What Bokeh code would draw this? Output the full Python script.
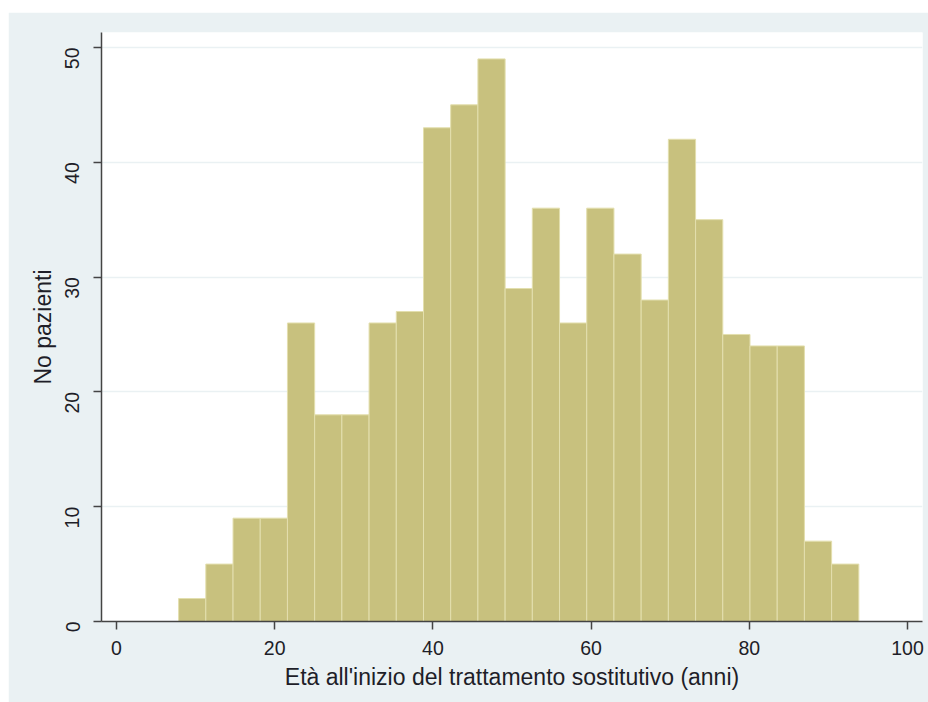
import numpy as np
from bokeh.plotting import figure
from bokeh.layouts import column, row
from bokeh.models import Spacer, ColumnDataSource, FixedTicker, Range1d
from bokeh.embed import file_html
from bokeh.resources import INLINE

# Histogram data (counts per bin)
counts = [2, 5, 9, 9, 26, 18, 18, 26, 27, 43, 45, 49, 29, 36, 26, 36, 32, 28, 42, 35, 25, 24, 24, 7, 5]
bin_start = 7.85
bin_width = 3.44
x_ticks = [0, 20, 40, 60, 80, 100]
y_ticks = [0, 10, 20, 30, 40, 50]
x_label = "Età all'inizio del trattamento sostitutivo (anni)"
y_label = "No pazienti"

lefts = [bin_start + i * bin_width for i in range(len(counts))]
rights = [l + bin_width for l in lefts]
src = ColumnDataSource(dict(left=lefts, right=rights, top=counts, bottom=[0] * len(counts)))

BG = "#EAF1F3"
TXT = "#1e1e28"
FONT = "Liberation Sans"

p = figure(width=920, height=690, output_backend="svg", toolbar_location=None,
           x_range=Range1d(-1.9, 101.9), y_range=Range1d(0, 51.3),
           min_border_left=93, min_border_right=6, min_border_top=20, min_border_bottom=81)
p.border_fill_color = BG
p.background_fill_color = "white"
p.outline_line_color = None

p.quad(left="left", right="right", top="top", bottom="bottom", source=src,
       fill_color="#C8C17E", line_color="#E3DFAE", line_width=1)

p.xgrid.grid_line_color = None
p.ygrid.grid_line_color = BG
p.ygrid.grid_line_width = 1.5
p.ygrid.ticker = FixedTicker(ticks=y_ticks[1:])

for ax in (p.xaxis[0], p.yaxis[0]):
    ax.axis_line_color = "#444444"
    ax.axis_line_width = 1.5
    ax.major_tick_line_color = "#444444"
    ax.major_tick_line_width = 1.5
    ax.major_tick_out = 8
    ax.major_tick_in = 0
    ax.minor_tick_line_color = None
    ax.major_label_text_font = FONT
    ax.major_label_text_font_size = "19.5px"
    ax.major_label_text_color = TXT
    ax.axis_label_text_font = FONT
    ax.axis_label_text_font_size = "23px"
    ax.axis_label_text_font_style = "normal"
    ax.axis_label_text_color = TXT

p.xaxis.ticker = FixedTicker(ticks=x_ticks)
p.yaxis.ticker = FixedTicker(ticks=y_ticks)
p.xaxis.axis_label = x_label
p.yaxis.axis_label = y_label
p.yaxis.major_label_orientation = np.pi / 2
p.xaxis.major_label_standoff = 11
p.yaxis.major_label_standoff = 21
p.xaxis.axis_label_standoff = 6
p.yaxis.axis_label_standoff = 0

layout = row(Spacer(width=8, height=702), column(Spacer(height=12, width=920), p))
open("out.html", "w").write(file_html(layout, INLINE))
